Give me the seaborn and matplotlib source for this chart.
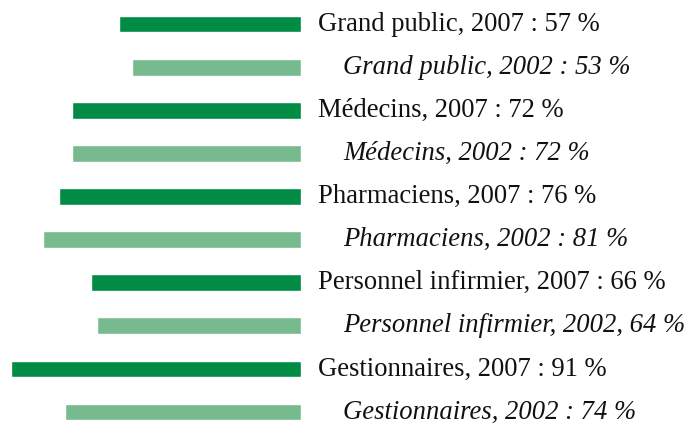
import matplotlib
matplotlib.use("Agg")
import matplotlib.pyplot as plt
import seaborn as sns
import pandas as pd

groups = ["Grand public", "Médecins", "Pharmaciens", "Personnel infirmier", "Gestionnaires"]
values_2007 = [57, 72, 76, 66, 91]
values_2002 = [53, 72, 81, 64, 74]
labels_2007 = ["Grand public, 2007 : 57 %", "Médecins, 2007 : 72 %", "Pharmaciens, 2007 : 76 %",
               "Personnel infirmier, 2007 : 66 %", "Gestionnaires, 2007 : 91 %"]
labels_2002 = ["Grand public, 2002 : 53 %", "Médecins, 2002 : 72 %", "Pharmaciens, 2002 : 81 %",
               "Personnel infirmier, 2002, 64 %", "Gestionnaires, 2002 : 74 %"]

rows = []
for g, v7, v2, l7, l2 in zip(groups, values_2007, values_2002, labels_2007, labels_2002):
    rows.append({"label": l7, "year": "2007", "value": v7})
    rows.append({"label": l2, "year": "2002", "value": v2})
df = pd.DataFrame(rows)

DARK = "#008C45"
LIGHT = "#77BA8E"

sns.set_style("white")
plt.rcParams["font.family"] = ["Liberation Serif", "DejaVu Serif"]

fig = plt.figure(figsize=(6.86, 4.25), dpi=100)
ax = fig.add_axes([0, 0, 301 / 686, 1])

sns.barplot(data=df, x="value", y="label", hue="year", dodge=False,
            palette={"2007": DARK, "2002": LIGHT}, width=0.39, ax=ax,
            legend=False, saturation=1)

ax.set_xlim(94.45, 0)
ax.set_ylim(9.30, -0.557)
ax.axis("off")

for i, row in df.iterrows():
    italic = row["year"] == "2002"
    ax.annotate(row["label"], xy=(0, i), xytext=(30.2 if italic else 12.2, 0),
                textcoords="offset points", va="center", ha="left",
                fontsize=19.2, style="italic" if italic else "normal",
                color="#111111", annotation_clip=False)

fig.savefig("out.png", dpi=100)
